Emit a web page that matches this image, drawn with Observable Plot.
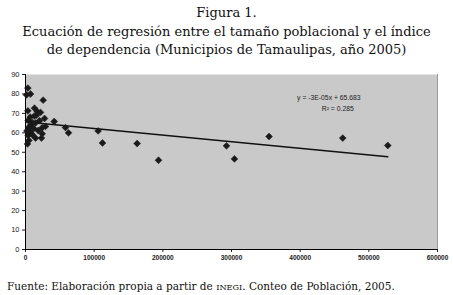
<!DOCTYPE html>
<html><head><meta charset="utf-8">
<script src="https://cdn.jsdelivr.net/npm/d3@7"></script>
<script src="https://cdn.jsdelivr.net/npm/@observablehq/plot@0.6"></script>
<style>
body{margin:0;background:#fff;width:453px;overflow:hidden}
#title{font-family:"DejaVu Serif",serif;font-size:13px;text-align:center;line-height:18.5px;padding-top:4px;color:#111;height:58px;box-sizing:content-box}
#chart{height:207px}
#foot{font-family:"DejaVu Serif",serif;font-size:10.5px;padding-left:7px;color:#111;margin-top:11px}
.sc{font-size:0.78em}
</style></head><body>
<div id="title">Figura 1.<br>Ecuación de regresión entre el tamaño poblacional y el índice<br>de dependencia (Municipios de Tamaulipas, año 2005)</div>
<div id="chart"></div>
<div id="foot">Fuente: Elaboración propia a partir de <span class="sc">INEGI</span>. Conteo de Población, 2005.</div>
<script>
// Population (x) per municipio
const poblacion = [3400,1500,7300,25700,3400,13100,17000,21800,6800,12600,27700,3900,9700,14600,20400,4900,12100,24300,29100,7300,18500,24300,3900,14600,23300,4900,2900,8000,16000,10000,2000,41800,58200,62600,105800,112100,162600,193700,292700,304300,354700,462000,527600];
// Dependency index (y)
const dependencia = [83.0,79.5,80.0,76.8,71.3,72.7,71.0,70.5,68.1,68.6,67.4,66.4,65.3,65.1,66.2,62.9,62.2,62.6,63.3,60.3,61.2,59.5,58.6,57.3,57.3,56.1,54.3,64.0,69.0,59.0,61.0,65.8,62.7,60.0,61.0,54.8,54.5,45.9,53.3,46.6,58.1,57.3,53.5];
// Trendline parameters
const intercepto = 65.683;
const pendiente = -3.4e-5;
const ecuacion = ["y = -3E-05x + 65.683", "R² = 0.285"];
const xTicks = [0,100000,200000,300000,400000,500000,600000];
const yTicks = [0,10,20,30,40,50,60,70,80,90];

const pts = poblacion.map((x,i)=>({x, y: dependencia[i]}));
const xmin = d3.min(poblacion), xmax = d3.max(poblacion);
const trend = [xmin, xmax].map(x=>({x, y: intercepto + pendiente*x}));
const labels = [
  {x: 488000, y: 77.8, t: ecuacion[0]},
  {x: 478000, y: 72.2, t: ecuacion[1]}
];

const chart = Plot.plot({
  width: 453, height: 207,
  marginTop: 12, marginBottom: 20, marginLeft: 25, marginRight: 16,
  style: {fontFamily: "Liberation Sans, Arial, sans-serif", fontSize: "7px", color: "#222", background: "#fff"},
  x: {domain: [0,600000]},
  y: {domain: [0,90]},
  marks: [
    Plot.frame({fill: "#c9c9c9", stroke: null}),
    Plot.axisX({ticks: xTicks, tickFormat: d3.format("d"), tickSize: 3, label: null, fontWeight: "bold", fontSize: 6.5, tickPadding: 3}),
    Plot.axisY({ticks: yTicks, tickFormat: d3.format("d"), tickSize: 3, label: null, tickPadding: 3, fontSize: 7.5}),
    Plot.ruleX([0], {stroke: "#000", strokeWidth: 1}),
    Plot.ruleY([0], {stroke: "#000", strokeWidth: 1}),
    Plot.ruleX([600000], {stroke: "#9a9a9a", strokeWidth: 1}),
    Plot.line(trend, {x: "x", y: "y", stroke: "#111", strokeWidth: 1.5}),
    Plot.dot(pts, {x: "x", y: "y", symbol: "diamond2", r: 3.1, fill: "#1a1a1a", stroke: "#1a1a1a", strokeWidth: 0.5}),
    Plot.text(labels, {x: "x", y: "y", text: "t", textAnchor: "end", fontSize: 6.8, fill: "#222"})
  ]
});
document.getElementById("chart").appendChild(chart);
</script>
</body></html>
